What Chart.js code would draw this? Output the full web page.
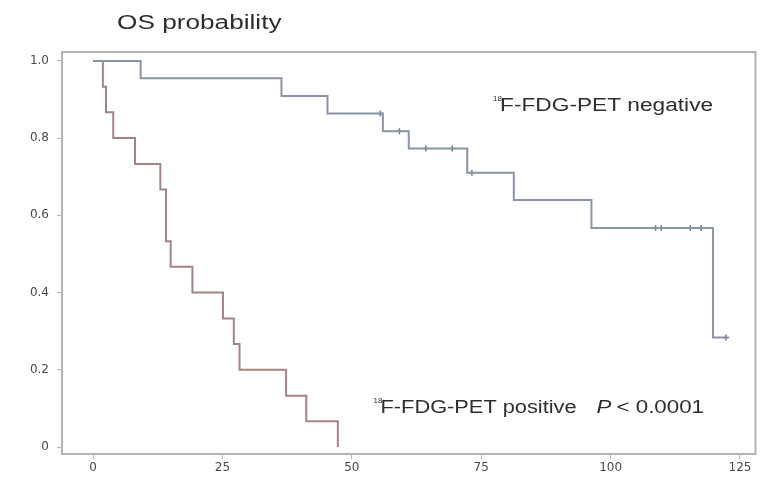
<!DOCTYPE html>
<html lang="en">
<head>
    <meta charset="UTF-8">
    <title>OS probability</title>
    <script src="https://cdn.jsdelivr.net/npm/chart.js"></script>
    <style>
        html, body { margin: 0; padding: 0; background: #fff; }
        #chart { display: block; }
    </style>
</head>
<body>
    <canvas id="chart" width="761" height="481"></canvas>

    <script>
        // Kaplan-Meier steps (months, survival probability)
        const negTimes = [0, 9.2, 36.4, 45.3, 56.0, 61.0, 72.3, 81.3, 96.3, 119.8, 122.3];
        const negSurv  = [1.0, 0.955, 0.909, 0.864, 0.818, 0.773, 0.71, 0.64, 0.567, 0.284, 0.284];
        const negCensorTimes = [55.5, 59.2, 64.3, 69.4, 73.2, 108.7, 109.8, 115.4, 117.5, 122.3];
        const negCensorSurv  = [0.864, 0.818, 0.773, 0.773, 0.71, 0.567, 0.567, 0.567, 0.567, 0.284];

        const posTimes = [0, 1.9, 2.5, 3.9, 8.1, 13.0, 14.1, 15.0, 19.2, 25.1, 27.2, 28.3, 37.3, 41.2, 47.3];
        const posSurv  = [1.0, 0.933, 0.867, 0.8, 0.733, 0.667, 0.533, 0.467, 0.4, 0.333, 0.267, 0.2, 0.133, 0.067, 0];

        const xTicks = [0, 25, 50, 75, 100, 125];
        const yTicks = [0, 0.2, 0.4, 0.6, 0.8, 1.0];

        const toPoints = (xs, ys) => xs.map((x, i) => ({x: x, y: ys[i]}));

        const frameColor = '#b4b4b4';
        const textColor = '#2e2e2e';
        const sans = '"Liberation Sans", Arial, sans-serif';

        // draws text stretched sideways (the original lettering is wide)
        function wideText(ctx, text, px, py, font, stretch) {
            ctx.save();
            ctx.font = font;
            ctx.translate(px, py);
            ctx.scale(stretch, 1);
            ctx.fillText(text, 0, 0);
            const w = ctx.measureText(text).width * stretch;
            ctx.restore();
            return w;
        }

        // frame, title and labels
        const decorations = {
            id: 'decorations',
            afterDraw(chart) {
                const {ctx, chartArea: a, scales: {x, y}} = chart;
                ctx.save();
                ctx.strokeStyle = frameColor;
                ctx.lineWidth = 2;
                ctx.strokeRect(a.left, a.top, a.right - a.left, a.bottom - a.top);

                ctx.fillStyle = textColor;
                ctx.textBaseline = 'alphabetic';
                wideText(ctx, 'OS probability', 117, 29, '20px ' + sans, 1.31);

                function isotopeLabel(text, px, py, stretch) {
                    ctx.font = '8px ' + sans;
                    ctx.fillText('18', px, py - 10);
                    return wideText(ctx, text, px + 7, py, '18px ' + sans, stretch) + 7;
                }
                isotopeLabel('F-FDG-PET negative', x.getPixelForValue(77.3), y.getPixelForValue(0.87), 1.26);
                isotopeLabel('F-FDG-PET positive', x.getPixelForValue(54.2), y.getPixelForValue(0.088), 1.21);

                const px = x.getPixelForValue(97.3), py = y.getPixelForValue(0.088);
                const pw = wideText(ctx, 'P', px, py, 'italic 18px ' + sans, 1.24);
                wideText(ctx, '< 0.0001', px + pw + 5, py, '18px ' + sans, 1.24);
                ctx.restore();
            }
        };

        const ctx = document.getElementById('chart').getContext('2d');
        new Chart(ctx, {
            type: 'line',
            data: {
                datasets: [
                    {
                        label: 'negative',
                        data: toPoints(negTimes, negSurv),
                        stepped: true,
                        borderColor: 'rgb(138,148,164)',
                        borderWidth: 2,
                        pointRadius: 0,
                        fill: false
                    },
                    {
                        label: 'negative censored',
                        data: toPoints(negCensorTimes, negCensorSurv),
                        showLine: false,
                        pointStyle: 'cross',
                        pointRadius: 3,
                        borderColor: 'rgb(115,122,138)',
                        borderWidth: 1.5
                    },
                    {
                        label: 'positive',
                        data: toPoints(posTimes, posSurv),
                        stepped: true,
                        borderColor: 'rgb(165,132,134)',
                        borderWidth: 2,
                        pointRadius: 0,
                        fill: false
                    }
                ]
            },
            options: {
                responsive: false,
                animation: false,
                layout: { padding: { top: 52, right: 3, left: 0, bottom: 0 } },
                plugins: {
                    legend: { display: false },
                    tooltip: { enabled: false }
                },
                scales: {
                    x: {
                        type: 'linear',
                        min: -6,
                        max: 128,
                        afterBuildTicks: s => { s.ticks = xTicks.map(v => ({value: v})); },
                        afterFit: s => { s.height = 27; },
                        border: { display: false },
                        grid: { drawOnChartArea: false, color: frameColor, tickLength: 5, lineWidth: 1 },
                        ticks: {
                            color: '#4a4a4a',
                            padding: 2,
                            maxRotation: 0,
                            font: { family: '"DejaVu Sans", sans-serif', size: 12 },
                            callback: v => String(v)
                        }
                    },
                    y: {
                        type: 'linear',
                        min: -0.018,
                        max: 1.023,
                        afterBuildTicks: s => { s.ticks = yTicks.map(v => ({value: v})); },
                        afterFit: s => { s.width = 62; },
                        border: { display: false },
                        grid: { drawOnChartArea: false, color: frameColor, tickLength: 5, lineWidth: 1 },
                        ticks: {
                            color: '#4a4a4a',
                            padding: 8,
                            font: { family: '"DejaVu Sans", sans-serif', size: 12 },
                            callback: v => v === 0 ? '0' : v.toFixed(1)
                        }
                    }
                }
            },
            plugins: [decorations]
        });
    </script>
</body>
</html>
